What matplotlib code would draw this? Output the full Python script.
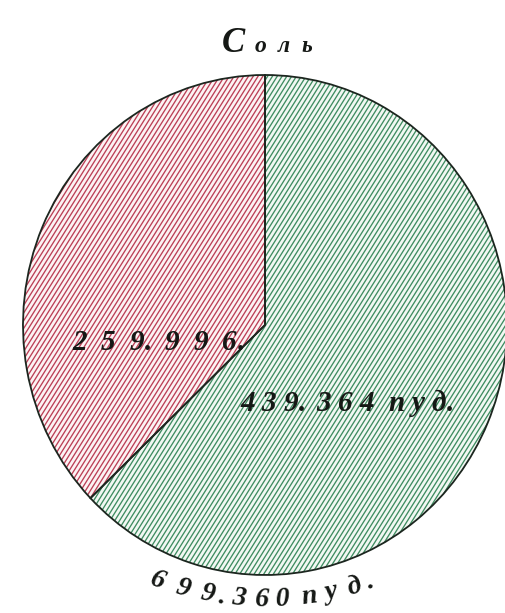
import numpy as np
import matplotlib
matplotlib.use('Agg')
import matplotlib.pyplot as plt
from matplotlib.patches import Wedge
from matplotlib.collections import LineCollection

# Salt shipments, in poods
title_cap = 'С'
title_rest = 'оль'
values = [259996, 439364]
labels = ['259. 996.', '439. 364 пуд.']
total_label = '699.360 пуд.'
line_colors = ['#bb3f56', '#3f8c61']
tint_colors = ['#fcf3f4', '#f2f8f3']
ink = '#151815'

W, H = 506, 613
fig = plt.figure(figsize=(W / 100, H / 100), dpi=100)
fig.patch.set_facecolor('white')

# pie sits in an axes a little taller than wide, so it comes out oval
ax = fig.add_axes([23 / W, 1 - 575 / H, 484 / W, 500 / H])
wedges, _ = ax.pie(values, startangle=90, counterclock=True, radius=1,
                   wedgeprops=dict(linewidth=0))
ax.set_aspect('auto')
ax.set_xlim(-1, 1)
ax.set_ylim(-1, 1)
ax.axis('off')

# hand-ruled hatching: parallel strokes at a steep angle, clipped to each slice
ang = np.deg2rad(58)
step = 4.8                      # horizontal spacing of strokes, px
sx, sy = 2 / 484, 2 / 500       # px -> data units
offs = np.arange(-700, 700, step)
segs = []
for o in offs:
    p0 = np.array([o - 700 * np.cos(ang), -700 * np.sin(ang)])
    p1 = np.array([o + 700 * np.cos(ang), 700 * np.sin(ang)])
    segs.append([(p0[0] * sx, p0[1] * sy), (p1[0] * sx, p1[1] * sy)])

for w, lc_col, tint in zip(wedges, line_colors, tint_colors):
    w.set_facecolor(tint)
    w.set_zorder(1)
    lc = LineCollection(segs, colors=lc_col, linewidths=0.95, zorder=2)
    ax.add_collection(lc)
    lc.set_clip_path(w)
    outline = Wedge(w.center, w.r, w.theta1, w.theta2, fill=False,
                    edgecolor='#1c261f', linewidth=1.3, zorder=3, clip_on=False)
    ax.add_patch(outline)

renderer = fig.canvas.get_renderer()
font = dict(family='Liberation Serif', style='italic', weight='bold', color=ink)


def lettered(x, y, s, size, track, curve=None):
    """Write s one letter at a time, spaced out like hand lettering (px coords)."""
    for i, ch in enumerate(s):
        if ch == ' ':
            x += size * 0.35
            continue
        yy, rot = y, 0
        if curve is not None:
            yy, rot = curve(x)
        t = fig.text(x / W, 1 - yy / H, ch, fontsize=size, va='baseline',
                     ha='left', rotation=rot, rotation_mode='anchor', **font)
        wd = t.get_window_extent(renderer).width
        if rot:
            wd = wd * np.cos(np.deg2rad(rot)) * 0.95
        nxt = s[i + 1] if i + 1 < len(s) else ''
        if nxt in ('.', ','):
            gap = 1
        elif ch in '.,':
            gap = track * 0.4
        else:
            gap = track
        x += wd + gap


# title
fig.text(222 / W, 1 - 52 / H, title_cap, fontsize=25, va='baseline', ha='left', **font)
lettered(255, 52, title_rest, 17, 11)

# slice labels
lettered(72, 350, labels[0], 21, 14)
lettered(240, 411, labels[1], 21, 7)


# total runs along the bottom rim of the oval
def rim(x):
    k = 0.0016
    y = 606 - k * (x - 265) ** 2
    slope = 2 * k * (x - 265)
    return y, np.rad2deg(np.arctan(slope))


lettered(148, 0, total_label, 20, 7, curve=rim)

fig.savefig('out.png', dpi=100)
